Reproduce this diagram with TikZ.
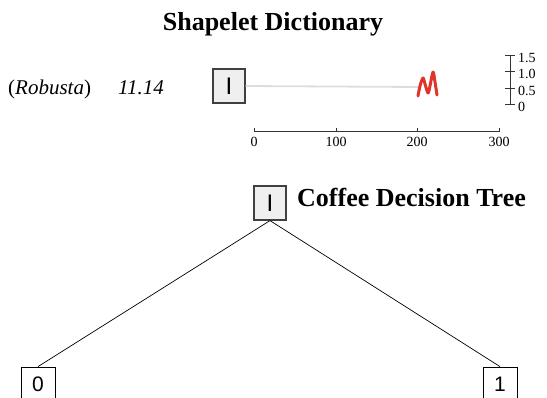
\documentclass[tikz,border=0pt]{standalone}
\usepackage{fontspec}
\setmainfont{Liberation Serif}
\newfontfamily\boxfont{Liberation Sans}
\definecolor{boxfill}{HTML}{EEEFEE}
\definecolor{boxedge}{HTML}{404040}
\definecolor{traceline}{HTML}{DDDDDD}
\definecolor{shapered}{HTML}{E0352A}
\definecolor{axisgray}{HTML}{333333}
\begin{document}
\begin{tikzpicture}[x=1pt,y=-1pt,
  shapebox/.style={draw=boxedge, fill=boxfill, line width=1.2pt,
    minimum width=32pt, minimum height=34pt, inner sep=0pt,
    font=\boxfont\fontsize{24}{24}\selectfont},
  leafbox/.style={draw=black, fill=white, line width=0.8pt,
    minimum width=34pt, minimum height=34pt, inner sep=0pt,
    font=\boxfont\fontsize{21}{21}\selectfont},
  heading/.style={font=\bfseries\fontsize{26}{26}\selectfont, inner sep=0pt},
  axisline/.style={draw=axisgray, line width=1pt},
  ticklabel/.style={font=\fontsize{14}{14}\selectfont, inner sep=0pt},
  ylabel/.style={font=\fontsize{14}{14}\selectfont, inner sep=0pt, anchor=west},
  edge/.style={draw=black, line width=0.7pt}]
\useasboundingbox (0,0) rectangle (547,398);
\clip (0,0) rectangle (547,398);

% dictionary heading
\node[heading] (title) at (273,24) {Shapelet Dictionary};

% class label and score
\node[anchor=base west, inner sep=0pt, font=\fontsize{21}{21}\selectfont] (cls) at (8,95) {(\textit{Robusta})};
\node[anchor=base west, inner sep=0pt, font=\fontsize{21}{21}\selectfont] (score) at (118,95) {\textit{11.14}};

% shapelet symbol with its position on the series
\node[shapebox] (shp) at (229,86) {I};
\coordinate (start) at (418,87);
\draw[traceline, line width=1.8pt] (shp.east) -- (start);
\draw[shapered, line width=3pt, line join=round, line cap=round]
  plot[smooth, tension=0.5] coordinates {(418,96) (420,86) (423,78) (425,84) (428,93) (430,86) (433,72) (435,82) (437,95)};

% amplitude scale
\draw[axisline] (510,56) -- (510,105);
\foreach \yv/\lab [count=\i] in {56/1.5, 72/1.0, 89/0.5, 105/0} {
  \draw[axisline] (505,\yv) -- (515,\yv);
  \node[ylabel] (ylab\i) at (518,\yv+2) {\lab};
}

% time scale
\draw[axisline] (254,132) -- (499,132);
\foreach \xv/\lab [count=\i] in {254/0, 336/100, 417/200, 499/300} {
  \draw[axisline] (\xv,132) -- (\xv,128);
  \node[ticklabel, anchor=north] (xlab\i) at (\xv,137) {\lab};
}

% decision tree
\node[shapebox] (root) at (270,203) {I};
\node[heading, anchor=base west] (treetitle) at (297,207) {Coffee Decision Tree};
\node[leafbox] (leaf0) at (38,384) {0};
\node[leafbox] (leaf1) at (500,384) {1};
\draw[edge] (root.south) -- (leaf0.north);
\draw[edge] (root.south) -- (leaf1.north);
\end{tikzpicture}
\end{document}
